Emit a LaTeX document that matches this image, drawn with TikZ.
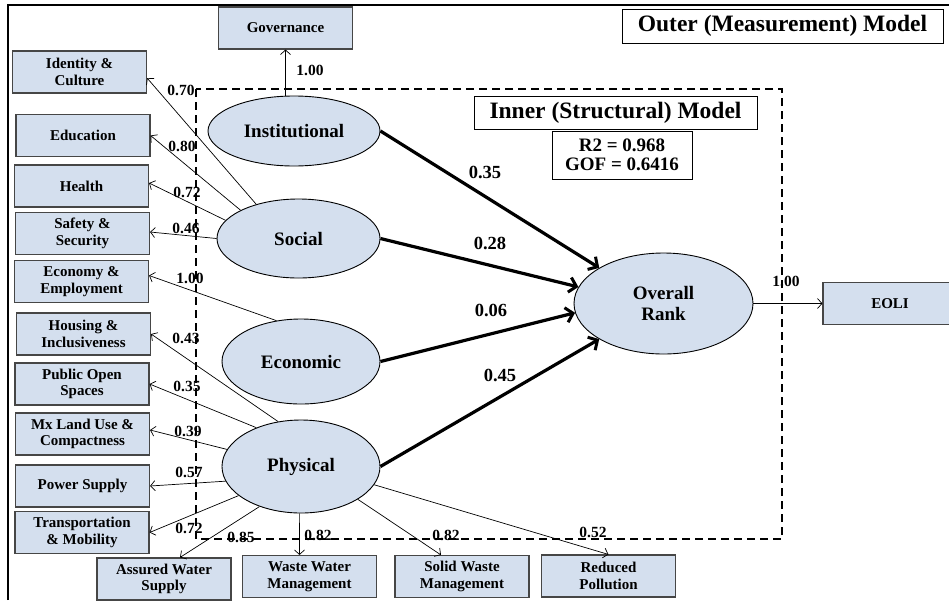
\documentclass[tikz,border=0pt]{standalone}
\usepackage{fontspec}
\setmainfont{Liberation Serif}
\usetikzlibrary{arrows.meta,shapes.geometric}
\definecolor{boxblue}{RGB}{212,223,238}
\definecolor{boxline}{RGB}{70,70,70}
\begin{document}
\begin{tikzpicture}[x=1pt, y=-1pt, font=\bfseries,
  ind/.style={draw=boxline, line width=1.1pt, fill=boxblue, minimum width=134pt, minimum height=42pt,
    inner sep=1pt, align=center, font=\bfseries\fontsize{15}{16.5}\selectfont},
  lv/.style={ellipse, draw, line width=0.9pt, fill=boxblue, inner sep=0pt, align=center,
    font=\bfseries\fontsize{19}{21}\selectfont},
  titlebox/.style={draw, line width=1pt, inner sep=0pt, align=center},
  lab/.style={inner sep=0pt, font=\bfseries\fontsize{15.5}{17}\selectfont},
  coef/.style={inner sep=0pt, font=\bfseries\fontsize{18.5}{20}\selectfont},
  loadarrow/.style={line width=0.7pt, -{Straight Barb[length=4.5pt,width=10pt,line width=0.7pt]}},
  patharrow/.style={line width=3.2pt, -{Straight Barb[length=7pt,width=15pt,line width=3pt]}}]
  \useasboundingbox (0,0) rectangle (949,600);
  \clip (0,0) rectangle (949,600);
  \draw[line width=1.5pt] (8,600) -- (8,5) -- (949,5);
  \draw[line width=1.8pt, dash pattern=on 8pt off 5pt] (196,89) rectangle (782,539);

  \node[titlebox, minimum width=321pt, minimum height=34pt, font=\bfseries\fontsize{23.5}{25}\selectfont] (outer) at (782.5,26) {Outer (Measurement) Model};
  \node[titlebox, minimum width=283pt, minimum height=33pt, font=\bfseries\fontsize{23.5}{25}\selectfont] (inner) at (615.5,112.5) {Inner (Structural) Model};
  \node[titlebox, minimum width=140pt, minimum height=48pt, font=\bfseries\fontsize{19}{19.5}\selectfont] (fit) at (622,155) {R2 = 0.968\\GOF = 0.6416};

  \node[lv, minimum width=172pt, minimum height=70pt] (inst) at (294,131) {Institutional};
  \node[lv, minimum width=163pt, minimum height=79pt] (soc) at (298.5,238.5) {Social};
  \node[lv, minimum width=158pt, minimum height=85pt] (eco) at (301,361.5) {Economic};
  \node[lv, minimum width=158pt, minimum height=93pt] (phy) at (301,466.5) {Physical};
  \node[lv, minimum width=179pt, minimum height=101pt] (rank) at (663.5,303.5) {Overall\\Rank};

  \node[ind] (gov) at (285.5,28) {Governance};
  \node[ind] (ident) at (79.5,72) {Identity \&\\Culture};
  \node[ind] (educ) at (83,135.5) {Education};
  \node[ind] (health) at (81.5,186) {Health};
  \node[ind] (safety) at (82.5,233.5) {Safety \&\\Security};
  \node[ind] (employ) at (81.5,281.5) {Economy \&\\Employment};
  \node[ind] (housing) at (83.5,334) {Housing \&\\Inclusiveness};
  \node[ind] (open) at (82,384) {Public Open\\Spaces};
  \node[ind] (landuse) at (82.5,434) {Mx Land Use \&\\Compactness};
  \node[ind] (power) at (82.5,486) {Power Supply};
  \node[ind] (transport) at (82,532.5) {Transportation\\\& Mobility};
  \node[ind] (water) at (164,579) {Assured Water\\Supply};
  \node[ind] (wastewater) at (309.5,576.5) {Waste Water\\Management};
  \node[ind] (solidwaste) at (462,576.5) {Solid Waste\\Management};
  \node[ind] (pollution) at (608.5,576) {Reduced\\Pollution};
  \node[ind] (eoli) at (890,303.5) {EOLI};

  \draw[loadarrow] (inst.north -| gov.south) -- (gov.south);
  \draw[loadarrow] (soc.141) -- ([yshift=-6pt]ident.east);
  \draw[loadarrow] (soc.154) -- (educ.east);
  \draw[loadarrow] (soc.166) -- ([yshift=3pt]health.east);
  \draw[loadarrow] (soc.180) -- ([yshift=1.5pt]safety.east);
  \draw[loadarrow] (eco.121) -- ([yshift=6pt]employ.east);
  \draw[loadarrow] (phy.117) -- (housing.east);
  \draw[loadarrow] (phy.139) -- (open.east);
  \draw[loadarrow] (phy.167) -- ([yshift=4pt]landuse.east);
  \draw[loadarrow] (phy.191) -- (power.east);
  \draw[loadarrow] (phy.205) -- (transport.east);
  \draw[loadarrow] (phy.224) -- ([xshift=16pt]water.north);
  \draw[loadarrow] (phy.268) -- ([xshift=-10pt]wastewater.north);
  \draw[loadarrow] (phy.330) -- ([xshift=-21pt]solidwaste.north);
  \draw[loadarrow] (phy.346) -- (pollution.north);
  \draw[loadarrow] (rank.east) -- (eoli.west);

  \draw[patharrow] (inst.east) -- (rank.151);
  \draw[patharrow] (soc.east) -- (rank.169);
  \draw[patharrow] (eco.east) -- (rank.186);
  \draw[patharrow] (phy.east) -- (rank.209);

  \node[lab] (l-gov) at (310,70) {1.00};
  \node[lab] (l-ident) at (181,90) {0.70};
  \node[lab] (l-educ) at (182,146) {0.80};
  \node[lab] (l-health) at (187,192) {0.72};
  \node[lab] (l-safety) at (186,228) {0.46};
  \node[lab] (l-employ) at (190,278) {1.00};
  \node[lab] (l-housing) at (186,338) {0.43};
  \node[lab] (l-open) at (187,386) {0.35};
  \node[lab] (l-landuse) at (188,431) {0.39};
  \node[lab] (l-power) at (189,472) {0.57};
  \node[lab] (l-transport) at (189,528) {0.72};
  \node[lab] (l-water) at (241,537) {0.85};
  \node[lab] (l-wastewater) at (318,535) {0.82};
  \node[lab] (l-solidwaste) at (446,535) {0.82};
  \node[lab] (l-pollution) at (593,532) {0.52};
  \node[lab] (l-eoli) at (786,281) {1.00};

  \node[coef] (c-inst) at (485,172) {0.35};
  \node[coef] (c-soc) at (490,243) {0.28};
  \node[coef] (c-eco) at (491,310) {0.06};
  \node[coef] (c-phy) at (500,375) {0.45};
\end{tikzpicture}
\end{document}
